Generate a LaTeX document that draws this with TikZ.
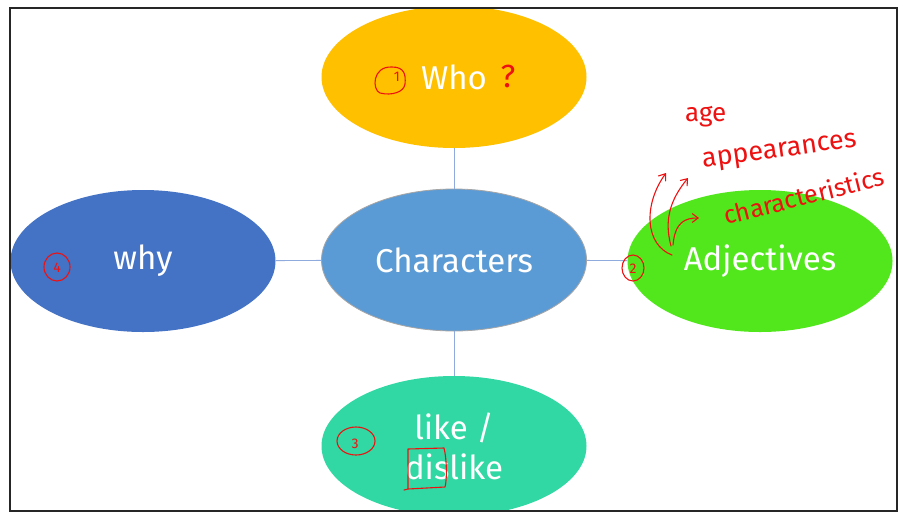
\documentclass[tikz,border=0pt]{standalone}
\usepackage{fontspec}
\setmainfont{Fira Sans}
\usetikzlibrary{shapes.geometric,arrows.meta}
\definecolor{whoC}{HTML}{FFC000}
\definecolor{chrC}{HTML}{5B9BD5}
\definecolor{whyC}{HTML}{4472C4}
\definecolor{adjC}{HTML}{52E61C}
\definecolor{likeC}{HTML}{31D8A3}
\definecolor{linkC}{HTML}{8FAADC}
\definecolor{inkC}{HTML}{EE1111}
\tikzset{
  bubble/.style={ellipse, minimum width=265pt, minimum height=142pt, inner sep=0pt,
    text=white, font=\fontsize{33}{40}\selectfont, align=center},
  link/.style={draw=linkC, line width=0.9pt},
  ink/.style={draw=inkC, line width=1.1pt, line cap=round, line join=round},
  inktext/.style={text=inkC, font=\fontsize{26}{28}\selectfont, inner sep=0pt, anchor=base west},
  inknum/.style={text=inkC, font=\fontsize{14}{16}\selectfont, inner sep=0pt},
  inkhead/.style={-{Straight Barb[length=6pt,width=9pt]}}
}
\begin{document}
\begin{tikzpicture}[x=1pt,y=-1pt]
\useasboundingbox (0,0) rectangle (899,512);
\fill[white] (0,0) rectangle (899,512);
\begin{scope}
  \clip (10,8) rectangle (897,511);
  % mind map bubbles
  \node[bubble, fill=whoC] (who) at (454,77) {Who};
  \node[bubble, fill=chrC, draw=gray!70, line width=0.8pt] (chr) at (454,260) {Characters};
  \node[bubble, fill=whyC] (why) at (143,261) {why};
  \node[bubble, fill=adjC] (adj) at (760,261) {Adjectives};
  \node[bubble, fill=likeC, minimum height=140pt] (like) at (454,446) {like /\\dislike};
  % connectors
  \draw[link] (who) -- (chr);
  \draw[link] (chr) -- (like);
  \draw[link] (why) -- (chr);
  \draw[link] (chr) -- (adj);
  % handwritten notes
  \node[inktext] (age) at (685,121) {age};
  \node[inktext, font=\fontsize{27}{29}\selectfont, rotate=8] (appear) at (703,168) {appearances};
  \node[inktext, font=\fontsize{25}{27}\selectfont, rotate=14] (charac) at (726,225) {characteristics};
  \node[text=inkC, font=\fontsize{32}{34}\selectfont, inner sep=0pt] (qm) at (508,76) {?};
  % numbered markers
  \draw[ink] (392,67) .. controls (372,66) and (372,90) .. (380,93)
             .. controls (392,96) and (404,92) .. (405,84)
             .. controls (406,74) and (404,67) .. cycle;
  \node[inknum] (n1) at (397,77) {1};
  \draw[ink] (633,268) ellipse (11pt and 13pt);
  \node[inknum] (n2) at (633,269) {2};
  \draw[ink] (356,441) ellipse (19pt and 14pt);
  \node[inknum] (n3) at (355,444) {3};
  \draw[ink] (57,267) ellipse (13pt and 14pt);
  \node[inknum] (n4) at (57,268) {4};
  % box round the prefix
  \draw[ink] (404,490) -- (408,489) -- (408,449) -- (444,448)
             .. controls (447,460) and (447,480) .. (445,487) -- (408,489);
  % arrows to the notes
  \draw[ink, inkhead] (672,255) .. controls (645,245) and (643,205) .. (666,173);
  \draw[ink, inkhead] (671,246) .. controls (664,220) and (670,200) .. (688,178);
  \draw[ink, inkhead] (673,245) .. controls (675,222) and (685,218) .. (699,218);
\end{scope}
% slide frame
\draw[black!85, line width=2.6pt] (10,8) rectangle (897,511);
\end{tikzpicture}
\end{document}
